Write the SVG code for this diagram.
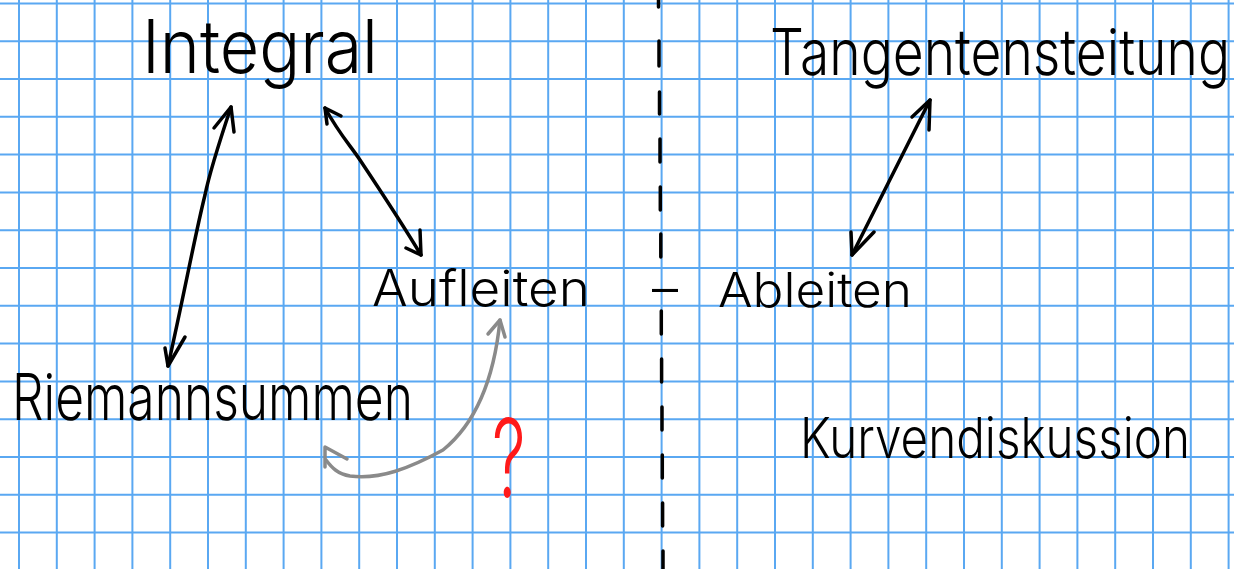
<svg xmlns="http://www.w3.org/2000/svg" width="1234" height="569" viewBox="0 0 1234 569">
<style>
.grid{stroke:#5aa8f2;stroke-width:2;fill:none}
.ink{fill:#000;font-family:"Inter","Open Sans","Liberation Sans",sans-serif;font-weight:300}
.arr{stroke:#000;stroke-width:3.5;fill:none;stroke-linecap:round;stroke-linejoin:round}
.gray{stroke:#8a8a8a;stroke-width:3.5;fill:none;stroke-linecap:round;stroke-linejoin:round}
.divider{stroke:#000;stroke-width:3.5;fill:none;stroke-linecap:round}
</style>
<rect width="1234" height="569" fill="#fff"/>
<path class="grid" d="M19 0V569M56.8 0V569M94.6 0V569M132.4 0V569M170.2 0V569M208 0V569M245.8 0V569M283.6 0V569M321.4 0V569M359.2 0V569M397 0V569M434.8 0V569M472.6 0V569M510.4 0V569M548.2 0V569M586 0V569M623.8 0V569M661.6 0V569M699.4 0V569M737.2 0V569M775 0V569M812.8 0V569M850.6 0V569M888.4 0V569M926.2 0V569M964 0V569M1001.8 0V569M1039.6 0V569M1077.4 0V569M1115.2 0V569M1153 0V569M1190.8 0V569M1228.6 0V569M0 3.4H1234M0 41.2H1234M0 79H1234M0 116.8H1234M0 154.6H1234M0 192.4H1234M0 230.2H1234M0 268H1234M0 305.8H1234M0 343.6H1234M0 381.4H1234M0 419.2H1234M0 457H1234M0 494.8H1234M0 532.6H1234"/>
<path class="divider" d="M658.5 0V7M659 41V66M659.5 92V114M660 139V162M660.3 187V210M660.8 234V257M661.3 311V334M661.6 359V382M662 407V430M662.3 455V478M662.6 503V526M663 551V569"/>
<g id="integral"><text class="ink" transform="translate(142 73) scale(0.86 1.04)" x="0" y="0" font-size="71" textLength="274.4" lengthAdjust="spacingAndGlyphs">Integral</text></g>
<g id="tangentensteitung"><text class="ink" transform="translate(770 75) scale(0.82 1)" x="0" y="0" font-size="64" textLength="561" lengthAdjust="spacingAndGlyphs">Tangentensteitung</text></g>
<g id="aufleiten"><text class="ink" x="372" y="306" font-size="50" textLength="218" lengthAdjust="spacingAndGlyphs">Aufleiten</text></g>
<g id="dash"><text class="ink" x="652" y="306" font-size="50" textLength="26" lengthAdjust="spacingAndGlyphs">–</text></g>
<g id="ableiten"><text class="ink" x="718" y="307" font-size="48" textLength="194" lengthAdjust="spacingAndGlyphs">Ableiten</text></g>
<g id="riemannsummen"><text class="ink" transform="translate(12 420) scale(0.78 1)" x="0" y="0" font-size="64" textLength="514" lengthAdjust="spacingAndGlyphs">Riemannsummen</text></g>
<g id="kurvendiskussion"><text class="ink" transform="translate(800 458) scale(0.86 1)" x="0" y="0" font-size="56" textLength="453.5" lengthAdjust="spacingAndGlyphs">Kurvendiskussion</text></g>
<g id="question"><text transform="translate(492 497) scale(0.62 1)" x="0" y="0" font-size="108" fill="#ff1a1a" font-family="Inter,'Liberation Sans',sans-serif" font-weight="300">?</text></g>
<g id="connectors">
<path class="arr" d="M231 107 C220 140 210 170 205 195 C195 235 185 290 168 366"/>
<path class="arr" d="M214 128 L231 107 L234 132"/>
<path class="arr" d="M165 348 L168 366 L185 337"/>
<path class="arr" d="M325 108 C340 135 350 145 360 160 C380 190 400 220 421 255"/>
<path class="arr" d="M341 116 L325 108 L327 124"/>
<path class="arr" d="M420 230 L421 255 L406 248"/>
<path class="arr" d="M930 100 L852 255"/>
<path class="arr" d="M912 117 L930 100 L929 130"/>
<path class="arr" d="M851 232 L852 255 L874 232"/>
<path class="gray" d="M500 320 C495 370 480 420 443 450 C410 468 380 480 350 476 C338 474 332 468 326 460"/>
<path class="gray" d="M488 334 L500 320 L505 337"/>
<path class="gray" d="M325 467 L325 447 L347 459"/>
</g>
</svg>
